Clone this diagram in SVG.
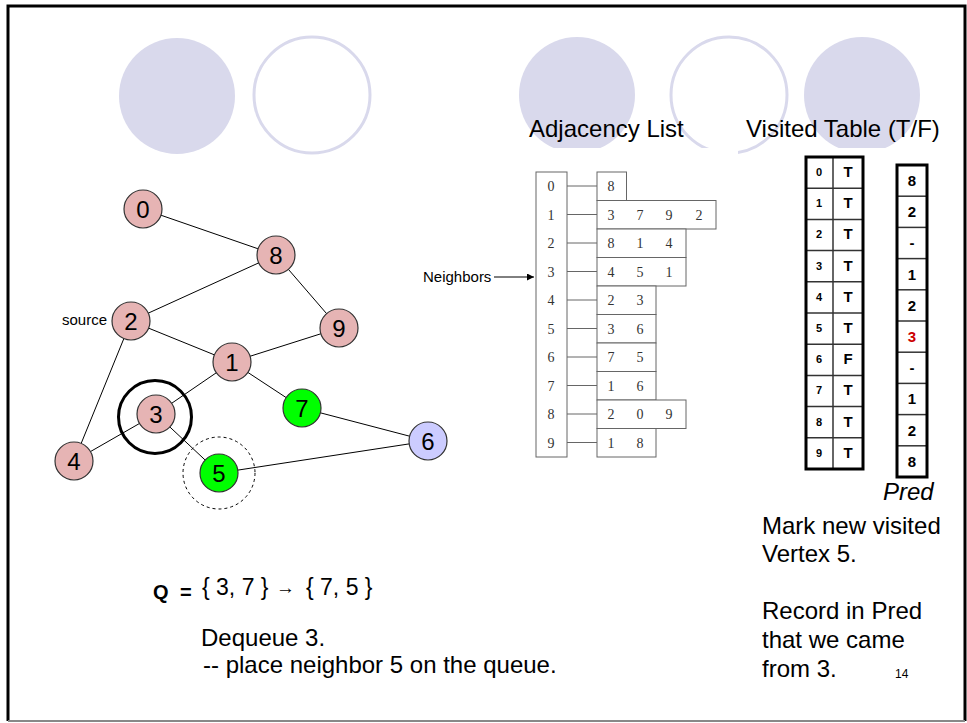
<svg xmlns="http://www.w3.org/2000/svg" width="967" height="723" viewBox="0 0 967 723">
  <style>
    .sans { font-family: "Liberation Sans", Arial, sans-serif; }
    .serif { font-family: "Liberation Serif", "Times New Roman", serif; }
    .deco-fill { fill: #D9D9EC; }
    .deco-ring { fill: none; stroke: #D9D9EC; stroke-width: 3; }
    .edge { stroke: #000; stroke-width: 1; }
    .node circle { stroke: #333; stroke-width: 1.2; }
    .pink { fill: #E6B4B4; }
    .green { fill: #00FF00; }
    .blue { fill: #CCCCFF; }
    .nlabel { font-family: "Liberation Sans", Arial, sans-serif; font-size: 24px; text-anchor: middle; fill: #000; }
    .adj-box { fill: #fff; stroke: #666; stroke-width: 1; }
    .adj-link { stroke: #666; stroke-width: 1; }
    .adj-num { font-family: "Liberation Serif", "Times New Roman", serif; font-size: 14px; fill: #333; text-anchor: middle; }
    .grid { stroke: #333; stroke-width: 1.5; }
    .outer { fill: none; stroke: #000; stroke-width: 3; }
    .vidx { font-family: "Liberation Sans", Arial, sans-serif; font-weight: bold; font-size: 11px; text-anchor: middle; }
    .vval { font-family: "Liberation Sans", Arial, sans-serif; font-weight: bold; font-size: 15px; text-anchor: middle; }
    .body { font-family: "Liberation Sans", Arial, sans-serif; font-size: 24px; fill: #000; }
  </style>
  <defs>
    <marker id="arrow" viewBox="0 0 10 10" refX="10" refY="5" markerWidth="7" markerHeight="7" orient="auto" markerUnits="userSpaceOnUse">
      <path d="M0,0 L10,5 L0,10 z" fill="#000"/>
    </marker>
  </defs>

  <rect width="967" height="723" fill="#fff"/>

  <!-- slide frame -->
  <path d="M8,721 V6 H965 V721" fill="none" stroke="#000" stroke-width="3"/>
  <line x1="8" y1="721" x2="965" y2="721" stroke="#888" stroke-width="2"/>

  <!-- decorative title circles -->
  <g id="decor">
    <circle class="deco-fill" cx="177" cy="96" r="58"/>
    <circle class="deco-ring" cx="312" cy="95" r="58"/>
    <circle class="deco-fill" cx="577" cy="95" r="58"/>
    <circle class="deco-ring" cx="729" cy="95" r="58"/>
    <circle class="deco-fill" cx="862" cy="95" r="58"/>
  </g>

  <!-- white backing of the table panels -->
  <rect x="515" y="148" width="223" height="24" fill="#fff"/>
  <rect x="760" y="148" width="185" height="9" fill="#fff"/>

  <!-- headings -->
  <g id="heading-adjacency">
    <text class="body" x="529" y="137">Adjacency List</text>
  </g>
  <g id="heading-visited">
    <text class="body" x="746" y="137">Visited Table (T/F)</text>
  </g>

  <!-- graph edges -->
  <g id="edges">
    <line class="edge" x1="143" y1="209" x2="276" y2="255"/>
    <line class="edge" x1="276" y1="255" x2="131" y2="321"/>
    <line class="edge" x1="276" y1="255" x2="339" y2="328"/>
    <line class="edge" x1="131" y1="321" x2="232" y2="362"/>
    <line class="edge" x1="339" y1="328" x2="232" y2="362"/>
    <line class="edge" x1="131" y1="321" x2="74" y2="461"/>
    <line class="edge" x1="232" y1="362" x2="156" y2="414"/>
    <line class="edge" x1="232" y1="362" x2="302" y2="408"/>
    <line class="edge" x1="156" y1="414" x2="74" y2="461"/>
    <line class="edge" x1="156" y1="414" x2="219" y2="473"/>
    <line class="edge" x1="302" y1="408" x2="428" y2="441"/>
    <line class="edge" x1="219" y1="473" x2="428" y2="441"/>
  </g>

  <!-- graph nodes -->
  <g id="node-0" class="node"><circle class="pink" cx="143" cy="209" r="19"/><text class="nlabel" x="143" y="218">0</text></g>
  <g id="node-8" class="node"><circle class="pink" cx="276" cy="255" r="19"/><text class="nlabel" x="276" y="264">8</text></g>
  <g id="node-2" class="node"><circle class="pink" cx="131" cy="321" r="19"/><text class="nlabel" x="131" y="330">2</text></g>
  <g id="node-9" class="node"><circle class="pink" cx="339" cy="328" r="19"/><text class="nlabel" x="339" y="337">9</text></g>
  <g id="node-1" class="node"><circle class="pink" cx="232" cy="362" r="19"/><text class="nlabel" x="232" y="371">1</text></g>
  <g id="node-7" class="node"><circle class="green" cx="302" cy="408" r="19"/><text class="nlabel" x="302" y="417">7</text></g>
  <g id="node-3" class="node"><circle class="pink" cx="156" cy="414" r="19"/><text class="nlabel" x="156" y="423">3</text></g>
  <g id="node-6" class="node"><circle class="blue" cx="428" cy="441" r="19"/><text class="nlabel" x="428" y="450">6</text></g>
  <g id="node-4" class="node"><circle class="pink" cx="74" cy="461" r="19"/><text class="nlabel" x="74" y="470">4</text></g>
  <g id="node-5" class="node"><circle class="green" cx="219" cy="473" r="19"/><text class="nlabel" x="219" y="482">5</text></g>

  <!-- highlight rings -->
  <g id="current-ring"><circle cx="155" cy="417" r="36.5" fill="none" stroke="#000" stroke-width="3"/></g>
  <g id="new-ring"><circle cx="219" cy="473" r="36" fill="none" stroke="#000" stroke-width="1" stroke-dasharray="3,3"/></g>

  <text class="sans" x="62" y="325" font-size="15">source</text>

  <!-- adjacency list -->
  <g id="adjacency-list">
    <rect class="adj-box" x="536" y="172" width="31" height="285"/>
    <g id="adj-links">
      <line class="adj-link" x1="567" y1="186" x2="597" y2="186"/>
      <line class="adj-link" x1="567" y1="214.5" x2="597" y2="214.5"/>
      <line class="adj-link" x1="567" y1="243" x2="597" y2="243"/>
      <line class="adj-link" x1="567" y1="271.5" x2="597" y2="271.5"/>
      <line class="adj-link" x1="567" y1="300" x2="597" y2="300"/>
      <line class="adj-link" x1="567" y1="328.5" x2="597" y2="328.5"/>
      <line class="adj-link" x1="567" y1="357" x2="597" y2="357"/>
      <line class="adj-link" x1="567" y1="385.5" x2="597" y2="385.5"/>
      <line class="adj-link" x1="567" y1="414" x2="597" y2="414"/>
      <line class="adj-link" x1="567" y1="442.5" x2="597" y2="442.5"/>
    </g>
    <rect class="adj-box" x="597" y="172" width="29.5" height="28.5"/>
    <rect class="adj-box" x="597" y="200.5" width="119" height="28.5"/>
    <rect class="adj-box" x="597" y="229" width="89" height="28.5"/>
    <rect class="adj-box" x="597" y="257.5" width="89" height="28.5"/>
    <rect class="adj-box" x="597" y="286" width="59" height="28.5"/>
    <rect class="adj-box" x="597" y="314.5" width="59" height="28.5"/>
    <rect class="adj-box" x="597" y="343" width="59" height="28.5"/>
    <rect class="adj-box" x="597" y="371.5" width="59" height="28.5"/>
    <rect class="adj-box" x="597" y="400" width="89" height="28.5"/>
    <rect class="adj-box" x="597" y="428.5" width="59" height="28.5"/>
    <g id="adj-index">
      <text class="adj-num" x="551" y="191">0</text>
      <text class="adj-num" x="551" y="219.5">1</text>
      <text class="adj-num" x="551" y="248">2</text>
      <text class="adj-num" x="551" y="276.5">3</text>
      <text class="adj-num" x="551" y="305">4</text>
      <text class="adj-num" x="551" y="333.5">5</text>
      <text class="adj-num" x="551" y="362">6</text>
      <text class="adj-num" x="551" y="390.5">7</text>
      <text class="adj-num" x="551" y="419">8</text>
      <text class="adj-num" x="551" y="447.5">9</text>
    </g>
    <g id="adj-values">
      <text class="adj-num" x="611" y="191">8</text>
      <text class="adj-num" x="611" y="219.5">3</text><text class="adj-num" x="640" y="219.5">7</text><text class="adj-num" x="669" y="219.5">9</text><text class="adj-num" x="699" y="219.5">2</text>
      <text class="adj-num" x="611" y="248">8</text><text class="adj-num" x="640" y="248">1</text><text class="adj-num" x="669" y="248">4</text>
      <text class="adj-num" x="611" y="276.5">4</text><text class="adj-num" x="640" y="276.5">5</text><text class="adj-num" x="669" y="276.5">1</text>
      <text class="adj-num" x="611" y="305">2</text><text class="adj-num" x="640" y="305">3</text>
      <text class="adj-num" x="611" y="333.5">3</text><text class="adj-num" x="640" y="333.5">6</text>
      <text class="adj-num" x="611" y="362">7</text><text class="adj-num" x="640" y="362">5</text>
      <text class="adj-num" x="611" y="390.5">1</text><text class="adj-num" x="640" y="390.5">6</text>
      <text class="adj-num" x="611" y="419">2</text><text class="adj-num" x="640" y="419">0</text><text class="adj-num" x="669" y="419">9</text>
      <text class="adj-num" x="611" y="447.5">1</text><text class="adj-num" x="640" y="447.5">8</text>
    </g>
  </g>

  <g id="neighbors-label">
    <text class="sans" x="423" y="282" font-size="15">Neighbors</text>
    <line x1="494" y1="277" x2="534" y2="277" stroke="#000" stroke-width="1" marker-end="url(#arrow)"/>
  </g>

  <!-- visited table -->
  <g id="visited-table">
    <g class="grid">
      <line x1="833" y1="157" x2="833" y2="469"/>
      <line x1="806" y1="188.2" x2="863" y2="188.2"/>
      <line x1="806" y1="219.4" x2="863" y2="219.4"/>
      <line x1="806" y1="250.6" x2="863" y2="250.6"/>
      <line x1="806" y1="281.8" x2="863" y2="281.8"/>
      <line x1="806" y1="313" x2="863" y2="313"/>
      <line x1="806" y1="344.2" x2="863" y2="344.2"/>
      <line x1="806" y1="375.4" x2="863" y2="375.4"/>
      <line x1="806" y1="406.6" x2="863" y2="406.6"/>
      <line x1="806" y1="437.8" x2="863" y2="437.8"/>
    </g>
    <rect class="outer" x="806" y="157" width="57" height="312"/>
    <text class="vidx" x="819" y="176">0</text><text class="vval" x="848" y="177">T</text>
    <text class="vidx" x="819" y="207.2">1</text><text class="vval" x="848" y="208.2">T</text>
    <text class="vidx" x="819" y="238.4">2</text><text class="vval" x="848" y="239.4">T</text>
    <text class="vidx" x="819" y="269.6">3</text><text class="vval" x="848" y="270.6">T</text>
    <text class="vidx" x="819" y="300.8">4</text><text class="vval" x="848" y="301.8">T</text>
    <text class="vidx" x="819" y="332">5</text><text class="vval" x="848" y="333">T</text>
    <text class="vidx" x="819" y="363.2">6</text><text class="vval" x="848" y="364.2">F</text>
    <text class="vidx" x="819" y="394.4">7</text><text class="vval" x="848" y="395.4">T</text>
    <text class="vidx" x="819" y="425.6">8</text><text class="vval" x="848" y="426.6">T</text>
    <text class="vidx" x="819" y="456.8">9</text><text class="vval" x="848" y="457.8">T</text>
  </g>

  <!-- predecessor table -->
  <g id="pred-table">
    <g class="grid">
      <line x1="897" y1="196.2" x2="927" y2="196.2"/>
      <line x1="897" y1="227.4" x2="927" y2="227.4"/>
      <line x1="897" y1="258.6" x2="927" y2="258.6"/>
      <line x1="897" y1="289.8" x2="927" y2="289.8"/>
      <line x1="897" y1="321" x2="927" y2="321"/>
      <line x1="897" y1="352.2" x2="927" y2="352.2"/>
      <line x1="897" y1="383.4" x2="927" y2="383.4"/>
      <line x1="897" y1="414.6" x2="927" y2="414.6"/>
      <line x1="897" y1="445.8" x2="927" y2="445.8"/>
    </g>
    <rect class="outer" x="897" y="165" width="30" height="312"/>
    <text class="vval" x="912" y="186">8</text>
    <text class="vval" x="912" y="217.2">2</text>
    <text class="vval" x="912" y="248.4">-</text>
    <text class="vval" x="912" y="279.6">1</text>
    <text class="vval" x="912" y="310.8">2</text>
    <text class="vval" x="912" y="342" fill="#CC0000">3</text>
    <text class="vval" x="912" y="373.2">-</text>
    <text class="vval" x="912" y="404.4">1</text>
    <text class="vval" x="912" y="435.6">2</text>
    <text class="vval" x="912" y="466.8">8</text>
    <text class="body" x="883" y="500" font-style="italic">Pred</text>
  </g>

  <!-- queue state -->
  <g id="queue">
    <text class="sans" x="153" y="599" font-size="20" font-weight="bold">Q</text>
    <text class="sans" x="180" y="599" font-size="20" font-weight="bold">=</text>
    <text class="sans" x="202" y="595" font-size="23">{ 3, 7 }</text>
    <text class="sans" x="276" y="594" font-size="19">→</text>
    <text class="sans" x="306" y="595" font-size="23">{ 7, 5 }</text>
    <text class="body" x="201" y="646">Dequeue 3.</text>
    <text class="body" x="203" y="673"> -- place neighbor 5 on the queue.</text>
  </g>

  <!-- notes -->
  <g id="notes">
    <text class="body" x="762" y="534">Mark new visited</text>
    <text class="body" x="762" y="562">Vertex 5.</text>
    <text class="body" x="762" y="619">Record in Pred</text>
    <text class="body" x="762" y="648">that we came</text>
    <text class="body" x="762" y="677">from 3.</text>
    <text class="sans" x="895" y="678" font-size="12">14</text>
  </g>
</svg>
